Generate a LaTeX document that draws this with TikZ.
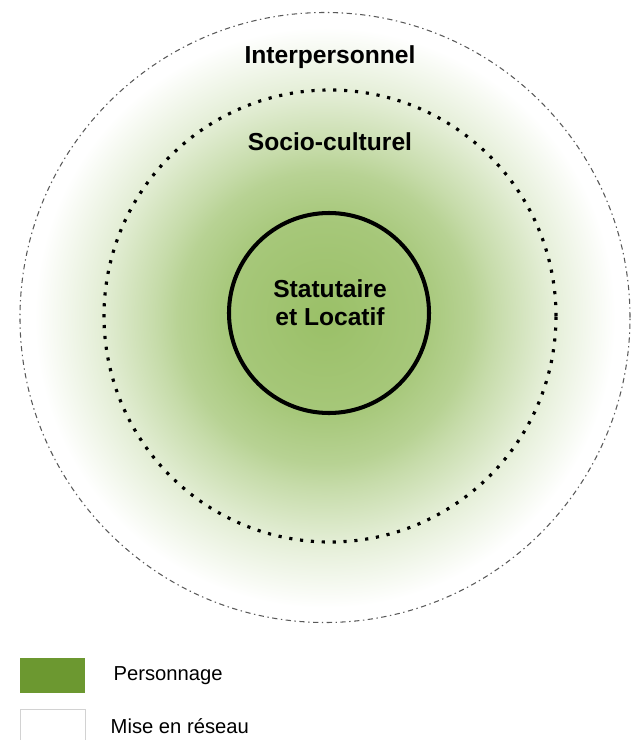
\documentclass[tikz,border=0pt]{standalone}
\usepackage{fontspec}
\setmainfont{Liberation Sans}
\usetikzlibrary{positioning}

\definecolor{persogreen}{RGB}{108,152,48}
\definecolor{fadegreen}{RGB}{132,178,70}

% green fading outwards from the character (path edge sits at 25bp)
\pgfdeclareradialshading{persofade}{\pgfpoint{0cm}{0cm}}{%
  color(0bp)=(fadegreen!82!white);
  color(8bp)=(fadegreen!72!white);
  color(12bp)=(fadegreen!58!white);
  color(14bp)=(fadegreen!46!white);
  color(18.5bp)=(fadegreen!22!white);
  color(23.8bp)=(white);
  color(50bp)=(white)}

\tikzset{
  lab/.style={font=\bfseries\fontsize{14}{16}\selectfont, inner sep=0},
  legbox/.style={minimum width=1.3cm, minimum height=0.7cm, inner sep=0},
  legtext/.style={font=\fontsize{11.5}{13}\selectfont, inner sep=0}
}

\begin{document}
\begin{tikzpicture}
\useasboundingbox (-6.6,-8.48) rectangle (6.1,6.32);

\shade[shading=persofade] (-0.1,-0.03) circle(6.1);

% the three spheres
\draw[gray!70!black, line width=0.6pt, dash pattern=on 3pt off 2pt on 0.8pt off 2pt] (-0.1,-0.03) circle(6.1);
\draw[line width=1.8pt, dash pattern=on 1.8pt off 4.4pt] (0,0) circle(4.52);
\draw[line width=2.3pt] (-0.02,0.06) circle(2.0);

\node[lab, anchor=base] (inter) at (0,5.06) {Interpersonnel};
\node[lab, anchor=base] (socio) at (0,3.32) {Socio-culturel};
\node[lab, align=center] (core) at (0,0.27) {Statutaire\\et Locatif};

% legend
\node[legbox, fill=persogreen] (perso) at (-5.55,-7.19) {};
\node[legtext, right=0.56cm of perso] (persotxt) {Personnage};
\node[legbox, draw=gray!35, fill=white] (reseau) at (-5.55,-8.21) {};
\node[legtext, right=0.5cm of reseau] (reseautxt) {Mise en réseau};
\end{tikzpicture}
\end{document}
